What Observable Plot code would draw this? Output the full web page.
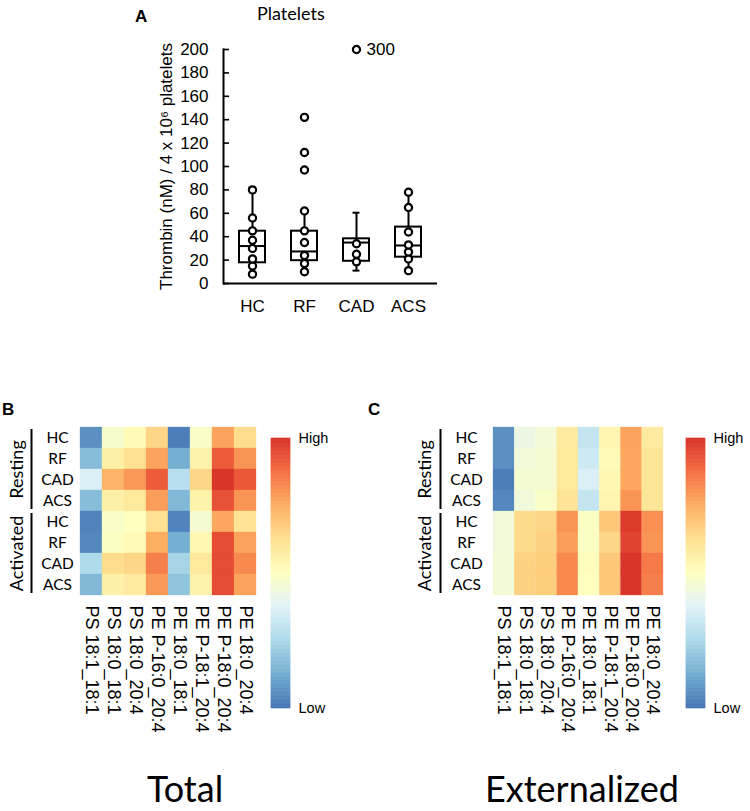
<!DOCTYPE html>
<html>
<head>
<meta charset="utf-8">
<script src="https://cdn.jsdelivr.net/npm/d3@7"></script>
<script src="https://cdn.jsdelivr.net/npm/@observablehq/plot@0.6"></script>
<style>
  body { margin: 0; background: #fff; }
  #root { position: relative; width: 750px; height: 811px; overflow: hidden; background: #fff; }
  .abs { position: absolute; white-space: nowrap; color: #000; }
  .panel { font-family: "Liberation Sans", Arial, sans-serif; font-weight: bold; font-size: 17px; line-height: 17px; }
  .title { font-family: Lato, "Open Sans", sans-serif; font-size: 18px; line-height: 18px; }
  .big { font-family: Lato, "Open Sans", sans-serif; font-size: 36px; line-height: 36px; text-align: center; }
  svg { overflow: visible; }
</style>
</head>
<body>
<div id="root"></div>
<script>
// ---------- Panel A data ----------
const groups = ["HC", "RF", "CAD", "ACS"];
const whiskerLow = [7, 10, 11, 11];
const quart1 = [17.7, 19.5, 19, 22.5];
const median = [32, 27.4, 35, 32.5];
const quart3 = [44.7, 44.7, 38.2, 48.2];
const whiskerHigh = [82, 62, 60.5, 78];
const pointsHC = [8, 15, 21, 30, 37, 45, 56, 80];
const pointsRF = [10, 17, 24, 35, 45, 62, 97, 112, 142];
const pointsCAD = [18.5, 25, 34, 200];
const pointsACS = [11, 21, 27, 33, 44, 65, 78];
const outlierGroup = "CAD";
const outlierShown = 200;
const outlierLabel = "300";
const yTicks = [0, 20, 40, 60, 80, 100, 120, 140, 160, 180, 200];
const yTitle = "Thrombin (nM) / 4 x 10\u2076 platelets";

// ---------- Heatmap data ----------
const lipids = ["PS 18:1_18:1", "PS 18:0_18:1", "PS 18:0_20:4", "PE P-16:0_20:4",
                "PE 18:0_18:1", "PE P-18:1_20:4", "PE P-18:0_20:4", "PE 18:0_20:4"];
const states = ["Resting", "Activated"];
const rowLabels = ["HC", "RF", "CAD", "ACS", "HC", "RF", "CAD", "ACS"];
// relative level, 0 = Low, 1 = High
const totalRestHC   = [0.06, 0.47, 0.52, 0.65, 0.02, 0.48, 0.77, 0.63];
const totalRestRF   = [0.17, 0.56, 0.62, 0.77, 0.13, 0.55, 0.91, 0.80];
const totalRestCAD  = [0.36, 0.73, 0.79, 0.91, 0.28, 0.65, 0.99, 0.92];
const totalRestACS  = [0.17, 0.56, 0.59, 0.78, 0.16, 0.55, 0.93, 0.80];
const totalActHC    = [0.03, 0.48, 0.50, 0.62, 0.03, 0.46, 0.76, 0.61];
const totalActRF    = [0.04, 0.49, 0.52, 0.75, 0.13, 0.53, 0.94, 0.77];
const totalActCAD   = [0.26, 0.63, 0.65, 0.84, 0.24, 0.59, 0.94, 0.82];
const totalActACS   = [0.16, 0.56, 0.58, 0.79, 0.19, 0.55, 0.94, 0.77];
const extRestHC     = [0.06, 0.42, 0.45, 0.58, 0.31, 0.54, 0.77, 0.58];
const extRestRF     = [0.06, 0.44, 0.46, 0.59, 0.33, 0.52, 0.76, 0.60];
const extRestCAD    = [0.02, 0.46, 0.46, 0.59, 0.36, 0.53, 0.76, 0.60];
const extRestACS    = [0.04, 0.44, 0.48, 0.61, 0.31, 0.54, 0.80, 0.60];
const extActHC      = [0.44, 0.64, 0.65, 0.80, 0.49, 0.69, 0.98, 0.81];
const extActRF      = [0.44, 0.64, 0.66, 0.78, 0.49, 0.65, 0.96, 0.80];
const extActCAD     = [0.45, 0.66, 0.67, 0.82, 0.51, 0.69, 0.99, 0.85];
const extActACS     = [0.45, 0.66, 0.67, 0.82, 0.50, 0.69, 0.99, 0.84];
const rampLabels = ["Low", "High"];
const heatColors = ["#4575b4", "#74add1", "#abd9e9", "#e0f3f8", "#ffffbf",
                    "#fee090", "#fdae61", "#f46d43", "#d73027"];

// ---------- helpers ----------
const root = document.getElementById("root");
function place(node, left, top) {
  const w = document.createElement("div");
  w.className = "abs";
  w.style.left = left + "px";
  w.style.top = top + "px";
  w.appendChild(node);
  root.appendChild(w);
}
function label(text, left, top, cls, width) {
  const d = document.createElement("div");
  d.className = "abs " + cls;
  d.style.left = left + "px";
  d.style.top = top + "px";
  if (width) d.style.width = width + "px";
  d.textContent = text;
  root.appendChild(d);
}
const SANS = "'Liberation Sans', Arial, sans-serif";
const HUM = "Lato, 'Open Sans', sans-serif";
const colorScale = {type: "linear", domain: [0, 1], interpolate: d3.piecewise(d3.interpolateRgb, heatColors)};

// ---------- Panel A ----------
const pointSets = [pointsHC, pointsRF, pointsCAD, pointsACS];
const boxRows = groups.map((g, i) => ({g, lo: whiskerLow[i], q1: quart1[i], med: median[i], q3: quart3[i], hi: whiskerHigh[i]}));
const pointRows = groups.flatMap((g, i) => pointSets[i].map(v => ({g, v})));
const outlierRows = [{g: outlierGroup, v: outlierShown, text: outlierLabel}];

const A_W = 320, A_ML = 83, A_MR = 23;
const A_FRAME = A_W - A_ML - A_MR;

const plotA = Plot.plot({
  width: A_W, height: 330,
  marginLeft: A_ML, marginRight: A_MR, marginTop: 49, marginBottom: 47,
  style: {fontFamily: SANS, fontSize: "17px", color: "black", background: "transparent", overflow: "visible"},
  x: {type: "band", domain: groups, padding: 0.04},
  y: {domain: [0, 200]},
  marks: [
    Plot.axisY({ticks: yTicks, tickSize: 0, tickPadding: 15, fontSize: 17, label: yTitle,
                labelAnchor: "center", labelOffset: 64, labelArrow: "none"}),
    Plot.axisX({tickSize: 0, tickPadding: 16, fontSize: 17, label: null}),
    // inward tick marks
    Plot.ruleY(yTicks, {y: d => d, insetRight: A_FRAME - 6, strokeWidth: 1.6}),
    Plot.frame({anchor: "left", strokeWidth: 2}),
    Plot.ruleY([0], {strokeWidth: 2}),
    Plot.ruleX(boxRows, {x: "g", y1: "lo", y2: "q1", strokeWidth: 2}),
    Plot.ruleX(boxRows, {x: "g", y1: "q3", y2: "hi", strokeWidth: 2}),
    Plot.tickY(boxRows, {x: "g", y: "lo", insetLeft: 21.5, insetRight: 21.5, strokeWidth: 2}),
    Plot.tickY(boxRows, {x: "g", y: "hi", insetLeft: 21.5, insetRight: 21.5, strokeWidth: 2}),
    Plot.barY(boxRows, {x: "g", y1: "q1", y2: "q3", fill: "white", stroke: "black", strokeWidth: 2, insetLeft: 12, insetRight: 12}),
    Plot.tickY(boxRows, {x: "g", y: "med", insetLeft: 12, insetRight: 12, strokeWidth: 2}),
    Plot.dot(pointRows, {x: "g", y: "v", r: 3.6, fill: "white", stroke: "black", strokeWidth: 2.2}),
    Plot.text(outlierRows, {x: "g", y: "v", text: "text", dx: 10, textAnchor: "start", fontSize: 17})
  ]
});
place(plotA, 140, 0);
label("A", 135, 8, "panel");
label("Platelets", 257, 4, "title");

// ---------- Heatmaps ----------
function heatmap(rows, o) {
  const cells = rows.flatMap((row, r) => row.map((v, c) => ({r, c, v})));
  const perState = rowLabels.length / states.length;
  return Plot.plot({
    width: o.width, height: 340,
    marginLeft: o.ml, marginRight: o.mr, marginTop: 27, marginBottom: 145,
    style: {fontFamily: SANS, color: "black", background: "transparent", overflow: "visible"},
    x: {domain: [0, lipids.length]},
    y: {domain: [0, rowLabels.length], reverse: true},
    color: colorScale,
    marks: [
      Plot.rect(cells, {x1: "c", x2: d => d.c + 1, y1: "r", y2: d => d.r + 1, fill: "v", stroke: "v", strokeWidth: 0.3}),
      Plot.axisX({ticks: lipids.map((_, i) => i + 0.5), tickFormat: t => lipids[Math.floor(t)],
                  tickRotate: 90, tickSize: 0, tickPadding: 10, fontSize: 18, fontFamily: SANS, label: null}),
      Plot.axisY({ticks: rowLabels.map((_, i) => i + 0.5), tickFormat: t => rowLabels[Math.floor(t)],
                  tickSize: 0, tickPadding: o.rowPad, textAnchor: "middle", fontSize: 15.5, fontFamily: HUM, label: null}),
      Plot.ruleX(states, {x: () => 0, dx: o.bracketDx, y1: (d, i) => i * perState, y2: (d, i) => (i + 1) * perState,
                          insetTop: 2, insetBottom: 2, strokeWidth: 2, stroke: "black"}),
      Plot.text(states, {x: () => 0, dx: o.stateDx, y: (d, i) => (i + 0.5) * perState, text: d => d,
                         rotate: -90, fontSize: 18, fontFamily: HUM, fill: "black"})
    ]
  });
}
const rampStep = 0.005;
const rampStops = d3.range(0, 1, rampStep);
function colorbar(width, mr) {
  return Plot.plot({
    width, height: 305,
    marginLeft: 16, marginRight: mr, marginTop: 18, marginBottom: 17,
    style: {fontFamily: SANS, color: "black", background: "transparent", overflow: "visible"},
    x: {axis: null}, y: {domain: [0, 1], axis: null},
    color: colorScale,
    marks: [
      Plot.barY(rampStops, {y1: d => d, y2: d => Math.min(1, d + rampStep), fill: d => d, stroke: d => d, strokeWidth: 0.6}),
      Plot.text(rampLabels, {y: (d, i) => i, text: d => d, frameAnchor: "right", dx: 8, textAnchor: "start", fontSize: 14.5, fill: "black"})
    ]
  });
}

const totalRows = [totalRestHC, totalRestRF, totalRestCAD, totalRestACS, totalActHC, totalActRF, totalActCAD, totalActACS];
const extRows = [extRestHC, extRestRF, extRestCAD, extRestACS, extActHC, extActRF, extActCAD, extActACS];

place(heatmap(totalRows, {width: 270, ml: 80, mr: 14, rowPad: 23, bracketDx: -49, stateDx: -63}), 0, 400);
place(colorbar(90, 55), 255, 420);
place(heatmap(extRows, {width: 275, ml: 93, mr: 12, rowPad: 27, bracketDx: -53, stateDx: -68}), 400, 400);
place(colorbar(80, 45), 670, 420);

label("B", 2, 401, "panel");
label("C", 368, 401, "panel");
label("Total", 85, 770, "big", 200);
label("Externalized", 482, 770, "big", 200);
</script>
</body>
</html>
